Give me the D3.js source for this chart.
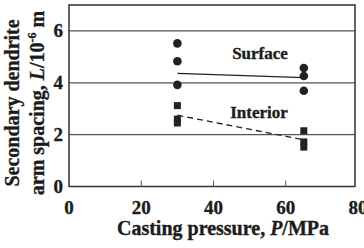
<!DOCTYPE html>
<html>
<head>
<meta charset="utf-8">
<script src="https://cdn.jsdelivr.net/npm/d3@7"></script>
<style>
  body { margin: 0; background: #fff; }
  text { font-family: "Liberation Serif", "Times New Roman", serif; font-weight: bold; fill: #1c1c1c; stroke: #1c1c1c; stroke-width: 0.35; }
</style>
</head>
<body>
<svg id="chart" width="364" height="248"></svg>
<script>
/* data */
const xTicks = [0, 20, 40, 60, 80];
const yTicks = [0, 2, 4, 6];
const surfacePoints = [
    { p: 30, l: 5.52 }, { p: 30, l: 4.83 }, { p: 30, l: 3.92 },
    { p: 65, l: 4.57 }, { p: 65, l: 4.26 }, { p: 65, l: 3.69 }
];
const interiorPoints = [
    { p: 30, l: 3.12 }, { p: 30, l: 2.6 }, { p: 30, l: 2.45 },
    { p: 65, l: 2.15 }, { p: 65, l: 1.72 }, { p: 65, l: 1.52 }
];
const surfaceFit = [{ p: 30, l: 4.36 }, { p: 65, l: 4.2 }];
const interiorFit = [{ p: 30, l: 2.75 }, { p: 65, l: 1.8 }];

/* layout */
const margin = { top: 5, left: 69, bottom: 61 };
const width = 364, height = 248;
const frameRight = 355;

const svg = d3.select("#chart");

const xScale = d3.scaleLinear().domain([0, 80]).range([margin.left, 358]);
const yScale = d3.scaleLinear().domain([0, 7]).range([height - margin.bottom - 0.5, margin.top]);
const y0 = yScale(0);

// gridlines
svg.append("g").selectAll("line").data(yTicks.filter(d => d > 0)).enter()
    .append("line")
    .attr("x1", margin.left).attr("x2", frameRight)
    .attr("y1", d => yScale(d)).attr("y2", d => yScale(d))
    .attr("stroke", "#555").attr("stroke-width", 1.3);

// frame
svg.append("rect")
    .attr("x", margin.left).attr("y", margin.top)
    .attr("width", frameRight - margin.left).attr("height", y0 - margin.top)
    .attr("fill", "none").attr("stroke", "#333").attr("stroke-width", 1.5);

// x ticks (inward)
svg.append("g").selectAll("line").data(xTicks.filter(d => d > 0 && d < 80)).enter()
    .append("line")
    .attr("x1", d => xScale(d)).attr("x2", d => xScale(d))
    .attr("y1", y0).attr("y2", y0 - 6)
    .attr("stroke", "#555").attr("stroke-width", 1);

// tick labels
svg.append("g").selectAll("text").data(xTicks).enter()
    .append("text")
    .attr("x", d => xScale(d))
    .attr("y", y0 + 27)
    .attr("text-anchor", "middle")
    .attr("font-size", 19)
    .text(d => d);

svg.append("g").selectAll("text").data(yTicks).enter()
    .append("text")
    .attr("x", 63)
    .attr("y", d => yScale(d) + 6.5)
    .attr("text-anchor", "end")
    .attr("font-size", 19)
    .text(d => d);

// axis titles
svg.append("text")
    .attr("x", 223).attr("y", 235)
    .attr("text-anchor", "middle")
    .attr("font-size", 20)
    .html('Casting pressure, <tspan font-style="italic">P</tspan>/MPa');

const yTitle = svg.append("text")
    .attr("transform", "translate(0,103) rotate(-90)")
    .attr("text-anchor", "middle")
    .attr("font-size", 20);
yTitle.append("tspan").attr("x", 0).attr("y", 19).text("Secondary dendrite");
const line2 = yTitle.append("tspan").attr("x", 0).attr("y", 44);
line2.append("tspan").text("arm spacing, ");
line2.append("tspan").attr("font-style", "italic").text("L");
line2.append("tspan").text("/10");
line2.append("tspan").attr("font-size", 12).attr("dy", -8).text("-6");
line2.append("tspan").attr("dy", 8).text(" m");

// fit lines
const line = d3.line().x(d => xScale(d.p)).y(d => yScale(d.l));
svg.append("path").datum(surfaceFit)
    .attr("d", line).attr("fill", "none")
    .attr("stroke", "#222").attr("stroke-width", 1.3);
svg.append("path").datum(interiorFit)
    .attr("d", line).attr("fill", "none")
    .attr("stroke", "#222").attr("stroke-width", 1.3)
    .attr("stroke-dasharray", "6,4");

// markers
svg.append("g").selectAll("circle").data(surfacePoints).enter()
    .append("circle")
    .attr("cx", d => xScale(d.p)).attr("cy", d => yScale(d.l))
    .attr("r", 4.3).attr("fill", "#222");

const sq = 7;
svg.append("g").selectAll("rect").data(interiorPoints).enter()
    .append("rect")
    .attr("x", d => xScale(d.p) - sq / 2).attr("y", d => yScale(d.l) - sq / 2)
    .attr("width", sq).attr("height", sq).attr("fill", "#222");

// series labels
svg.append("text").attr("x", 260).attr("y", 59)
    .attr("text-anchor", "middle").attr("font-size", 17).text("Surface");
svg.append("text").attr("x", 259).attr("y", 118)
    .attr("text-anchor", "middle").attr("font-size", 17).text("Interior");
</script>
</body>
</html>
